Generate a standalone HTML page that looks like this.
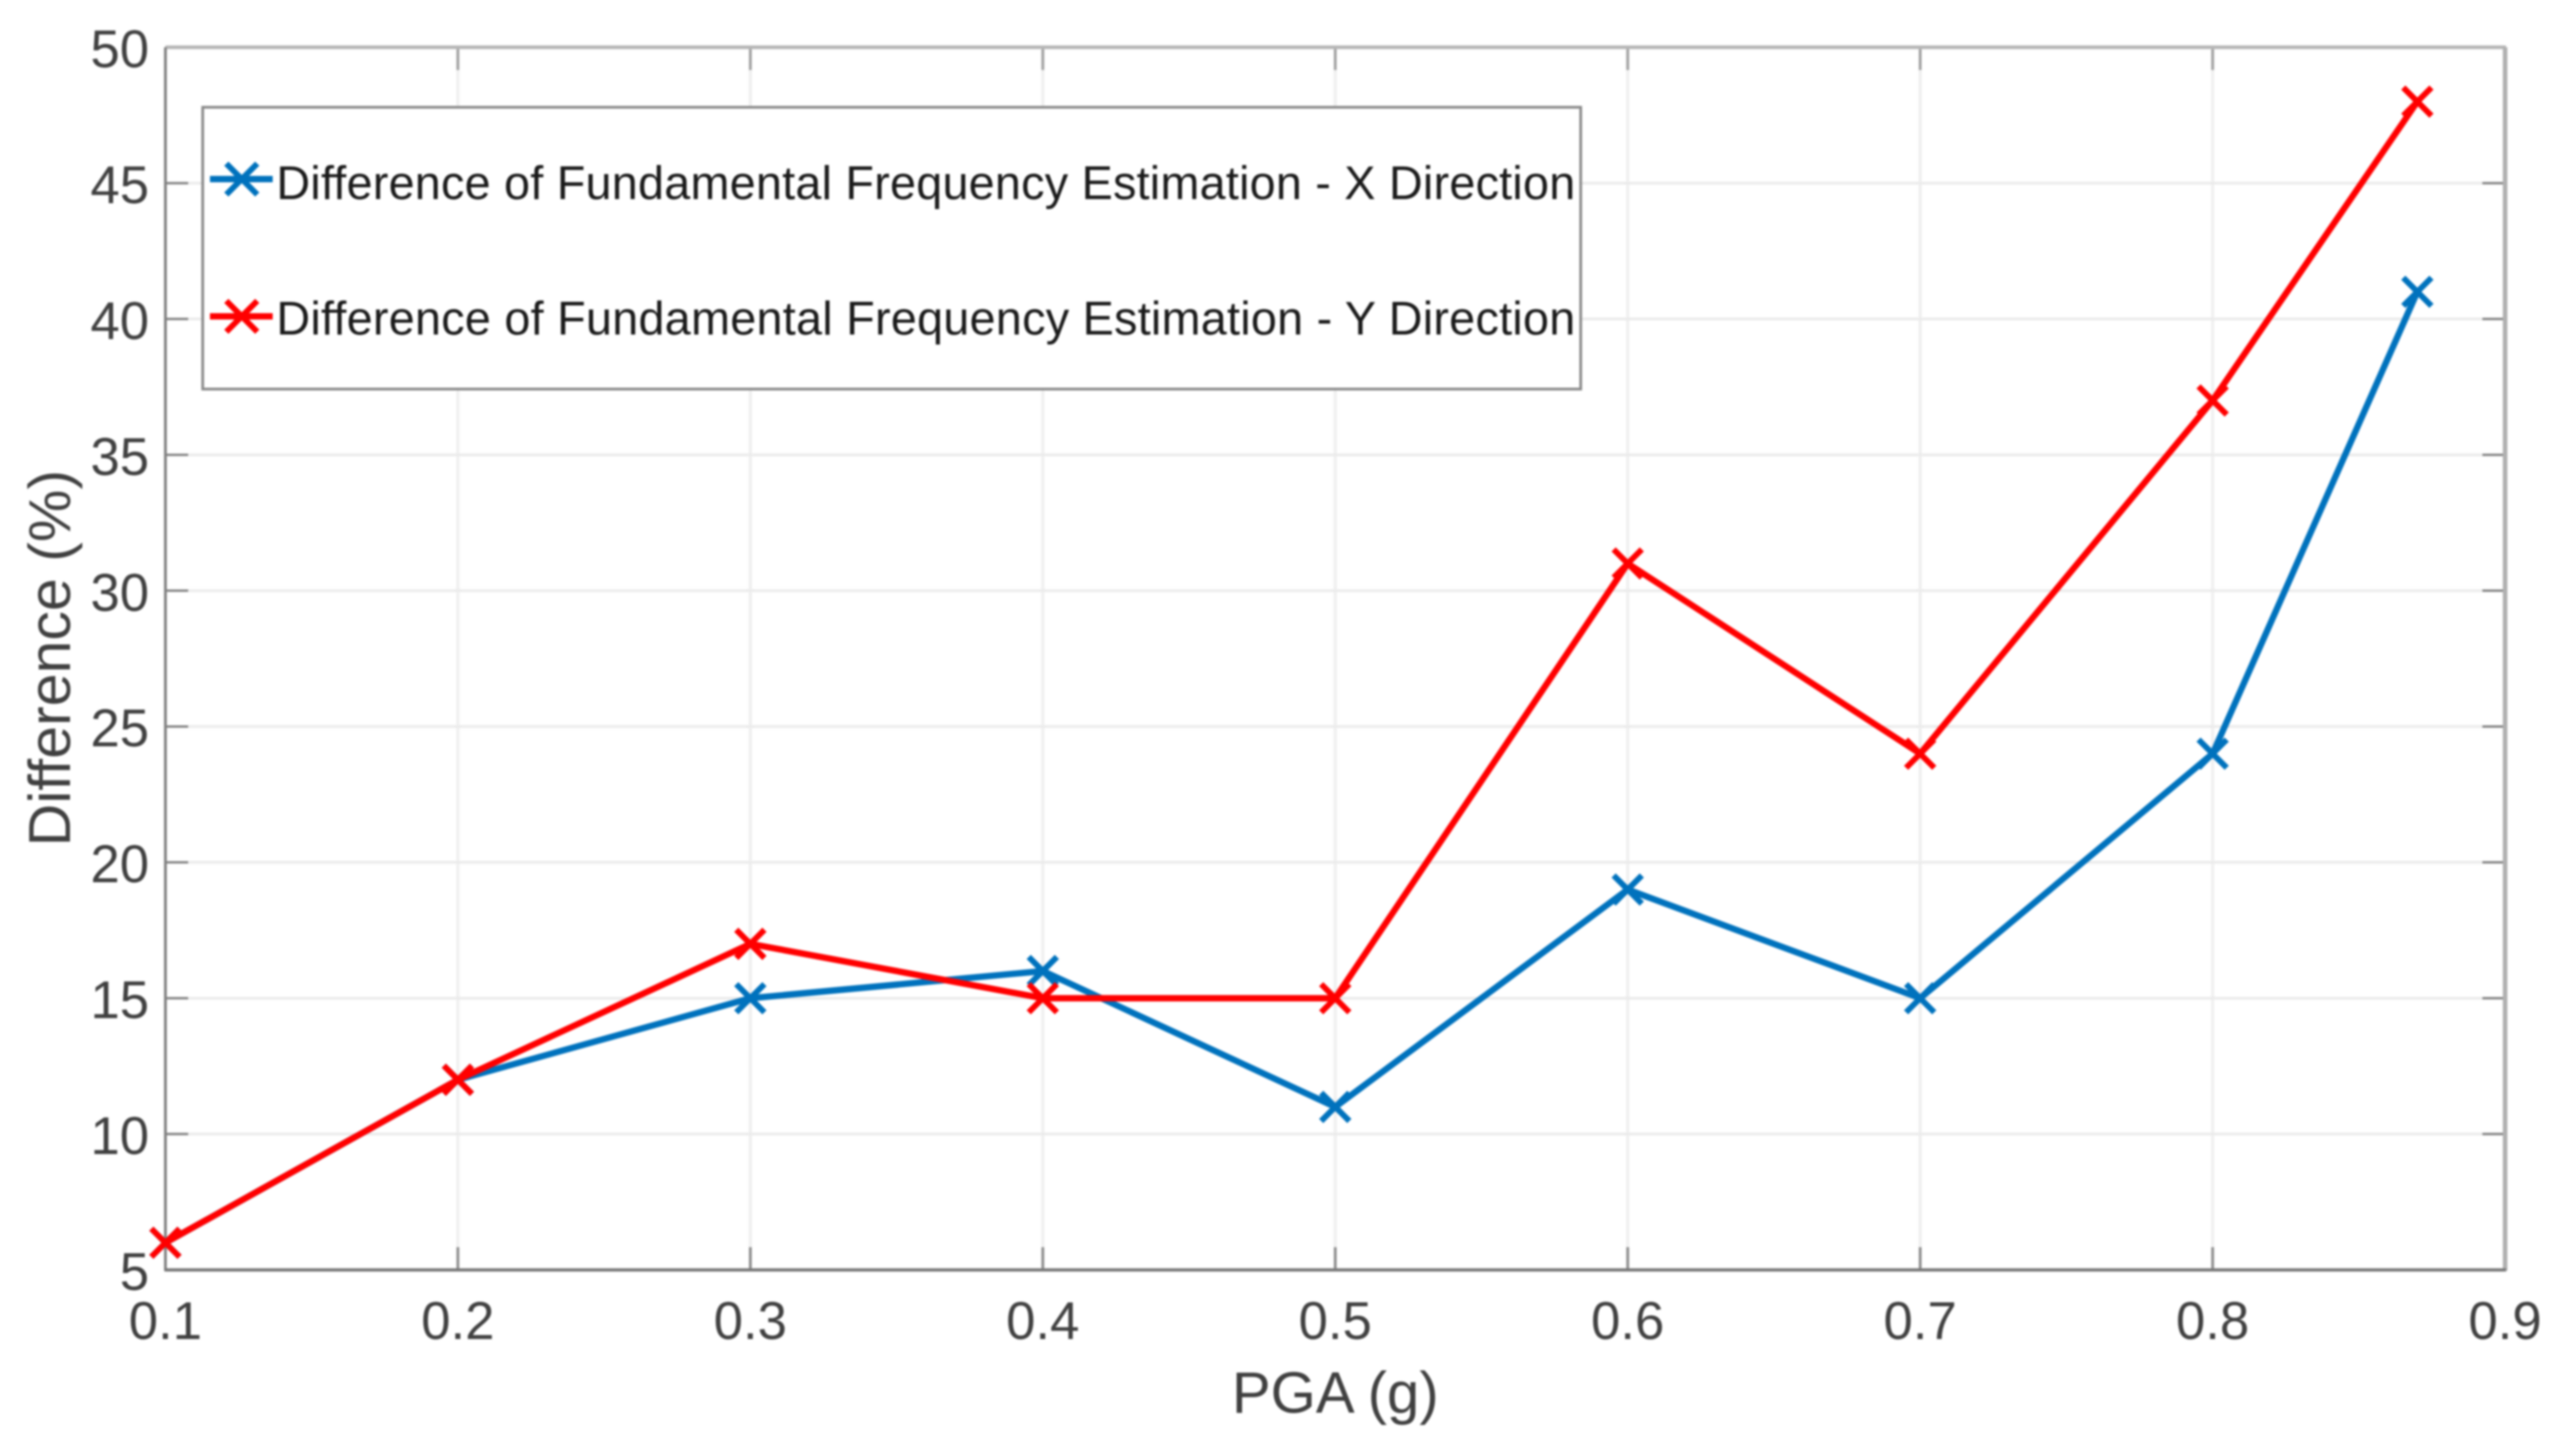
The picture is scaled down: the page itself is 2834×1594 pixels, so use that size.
<!DOCTYPE html>
<html lang="en">
<head>
<meta charset="utf-8">
<title>Difference of Fundamental Frequency Estimation</title>
<style>
  html, body { margin: 0; padding: 0; background: #fff; }
  svg { display: block; font-family: "Liberation Sans", Arial, sans-serif; }
  #plot-root { filter: blur(1.1px); }
</style>
</head>
<body>
<svg id="chart" width="2834" height="1594" viewBox="0 0 2834 1594" xmlns="http://www.w3.org/2000/svg">
  <rect width="2834" height="1594" fill="#ffffff"/>
  <g id="plot-root">
    <g id="grid"></g>
    <g id="ticks"></g>
    <g id="frame">
      <line x1="182" y1="52" x2="2757" y2="52" stroke="#b6b6b6" stroke-width="4"/>
      <line x1="2756" y1="52" x2="2756" y2="1398" stroke="#b0b0b0" stroke-width="5"/>
      <line x1="182" y1="52" x2="182" y2="1398" stroke="#808080" stroke-width="3"/>
      <line x1="181" y1="1397" x2="2757" y2="1397" stroke="#777777" stroke-width="3.5"/>
    </g>
    <g id="tick-labels"></g>
    <g id="series"></g>
    <text x="1469" y="1554" font-size="64" fill="#404040" text-anchor="middle">PGA (g)</text>
    <text transform="translate(77 724) rotate(-90)" font-size="65" fill="#404040" text-anchor="middle">Difference (%)</text>
    <g id="legend">
      <rect x="223" y="118" width="1516" height="310" fill="#ffffff" stroke="#8a8a8a" stroke-width="3"/>
      <g>
        <line x1="231" y1="197" x2="300" y2="197" stroke="#0072BD" stroke-width="7"/>
        <path d="M249 180L283 214M283 180L249 214" stroke="#0072BD" stroke-width="6.5" fill="none"/>
        <text x="304" y="219" font-size="51.5" fill="#1a1a1a" textLength="1429" lengthAdjust="spacing">Difference of Fundamental Frequency Estimation - X Direction</text>
      </g>
      <g>
        <line x1="231" y1="348" x2="300" y2="348" stroke="#ff0000" stroke-width="7"/>
        <path d="M249 331L283 365M283 331L249 365" stroke="#ff0000" stroke-width="6.5" fill="none"/>
        <text x="304" y="368" font-size="51.5" fill="#1a1a1a" textLength="1429" lengthAdjust="spacing">Difference of Fundamental Frequency Estimation - Y Direction</text>
      </g>
    </g>
  </g>
</svg>
<script>
const pgaValues = [0.1, 0.2, 0.3, 0.4, 0.5, 0.6, 0.7, 0.8, 0.87];
const xDirectionValues = [6, 12, 15, 16, 11, 19, 15, 24, 41];
const yDirectionValues = [6, 12, 17, 15, 15, 31, 24, 37, 48];
const xTickLabels = ['0.1', '0.2', '0.3', '0.4', '0.5', '0.6', '0.7', '0.8', '0.9'];
const yTickLabels = ['5', '10', '15', '20', '25', '30', '35', '40', '45', '50'];

const NS = 'http://www.w3.org/2000/svg';
const plotLeft = 182, plotRight = 2756, plotTop = 52, plotBottom = 1397;
const xMin = 0.1, xMax = 0.9, yMin = 5, yMax = 50;
function xScale(v) { return plotLeft + (v - xMin) / (xMax - xMin) * (plotRight - plotLeft); }
function yScale(v) { return plotBottom - (v - yMin) / (yMax - yMin) * (plotBottom - plotTop); }

function drawLine(parent, x1, y1, x2, y2, color, width) {
  const el = document.createElementNS(NS, 'line');
  el.setAttribute('x1', x1);
  el.setAttribute('y1', y1);
  el.setAttribute('x2', x2);
  el.setAttribute('y2', y2);
  el.setAttribute('stroke', color);
  el.setAttribute('stroke-width', width);
  parent.appendChild(el);
  return el;
}
function drawLabel(parent, x, y, str, anchor) {
  const el = document.createElementNS(NS, 'text');
  el.setAttribute('x', x);
  el.setAttribute('y', y);
  el.setAttribute('font-size', '58');
  el.setAttribute('fill', '#404040');
  el.setAttribute('text-anchor', anchor);
  el.textContent = str;
  parent.appendChild(el);
  return el;
}

const gridG = document.getElementById('grid');
const ticksG = document.getElementById('ticks');
const labelsG = document.getElementById('tick-labels');
const tickLen = 25;

xTickLabels.forEach(function (label) {
  const x = xScale(parseFloat(label));
  const gridLine = drawLine(gridG, x, plotTop, x, plotBottom, '#f0f0f0', 3.5);
  
  
  const tickBottom = drawLine(ticksG, x, plotBottom, x, plotBottom - tickLen, '#8c8c8c', 3);
  
  
  const tickTop = drawLine(ticksG, x, plotTop, x, plotTop + tickLen, '#a0a0a0', 3);
  
  
  const text = drawLabel(labelsG, x, 1473, label, 'middle');
  
  
});

yTickLabels.forEach(function (label) {
  const y = yScale(parseFloat(label));
  const gridLine = drawLine(gridG, plotLeft, y, plotRight, y, '#ebebeb', 3);
  
  
  const tickLeft = drawLine(ticksG, plotLeft, y, plotLeft + tickLen, y, '#808080', 2.5);
  
  
  const tickRight = drawLine(ticksG, plotRight, y, plotRight - tickLen, y, '#808080', 2.5);
  
  
  const text = drawLabel(labelsG, 164, y + 22, label, 'end');
  
  
});

function drawSeries(values, color, seriesName) {
  const seriesG = document.getElementById('series');
  const group = document.createElementNS(NS, 'g');
  
  
  seriesG.appendChild(group);

  const poly = document.createElementNS(NS, 'polyline');
  poly.setAttribute('points', values.map(function (v, i) {
    return xScale(pgaValues[i]) + ',' + yScale(v);
  }).join(' '));
  poly.setAttribute('fill', 'none');
  poly.setAttribute('stroke', color);
  poly.setAttribute('stroke-width', '7');
  poly.setAttribute('stroke-linejoin', 'round');
  
  
  group.appendChild(poly);

  values.forEach(function (v, i) {
    const cx = xScale(pgaValues[i]);
    const cy = yScale(v);
    const r = 15.5;
    const marker = document.createElementNS(NS, 'path');
    marker.setAttribute('d', 'M' + (cx - r) + ' ' + (cy - r) + 'L' + (cx + r) + ' ' + (cy + r) +
      'M' + (cx + r) + ' ' + (cy - r) + 'L' + (cx - r) + ' ' + (cy + r));
    marker.setAttribute('stroke', color);
    marker.setAttribute('stroke-width', '6.5');
    marker.setAttribute('fill', 'none');
    
    
    group.appendChild(marker);
  });
}

drawSeries(xDirectionValues, '#0072BD', 'series-x-direction');
drawSeries(yDirectionValues, '#ff0000', 'series-y-direction');
</script>
</body>
</html>
